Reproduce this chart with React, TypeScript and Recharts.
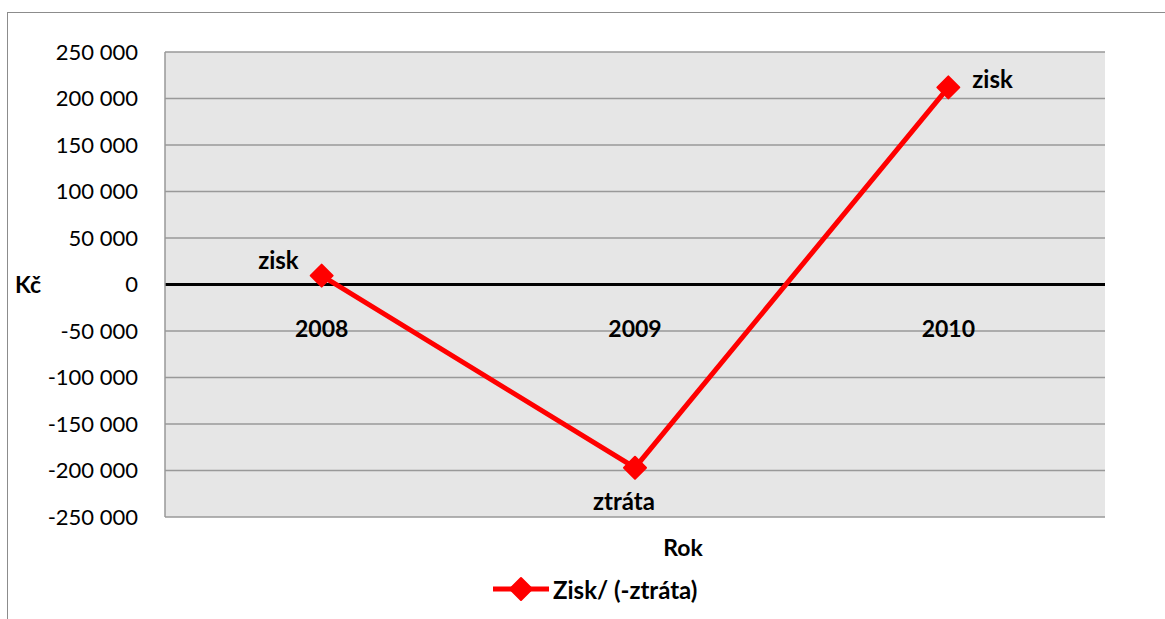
import React from 'react';
import { LineChart, Line, XAxis, YAxis, CartesianGrid, ReferenceLine, LabelList } from 'recharts';

const years = ['2008', '2009', '2010'];
const values = [9500, -197000, 212000];
const pointLabels = ['zisk', 'ztráta', 'zisk'];
const yTicks = [-250000, -200000, -150000, -100000, -50000, 0, 50000, 100000, 150000, 200000, 250000];

const data = years.map((y, i) => ({ year: y, value: values[i], zero: 0, label: pointLabels[i] }));

const FONT = 'Lato, "Open Sans", sans-serif';
const fmt = (v: number) => {
  const s = Math.abs(v).toString().replace(/\B(?=(\d{3})+(?!\d))/g, ' ');
  return (v < 0 ? '-' : '') + s;
};

const Diamond = (props: any) => {
  const { cx, cy } = props;
  if (cx == null || cy == null) return null;
  const r = 11;
  return (
    <path
      d={`M${cx},${cy - r} L${cx + r},${cy} L${cx},${cy + r} L${cx - r},${cy} Z`}
      fill="#ff0000"
      stroke="#ff0000"
      strokeWidth={2}
      strokeLinejoin="round"
    />
  );
};

const PointLabel = (props: any) => {
  const { x, y, index } = props;
  const txt = pointLabels[index];
  let tx = x, ty = y, anchor: any = 'middle';
  if (index === 0) { tx = x - 23; ty = y - 16; anchor = 'end'; }
  else if (index === 1) { tx = x - 11; ty = y + 33; anchor = 'middle'; }
  else { tx = x + 24; ty = y - 9; anchor = 'start'; }
  return (
    <text x={tx} y={ty} textAnchor={anchor} dominantBaseline="central" fontFamily={FONT} fontWeight={700} fontSize={24} fill="#000">
      {txt}
    </text>
  );
};

const CatLabel = (props: any) => {
  const { x, y, index } = props;
  return (
    <text x={x} y={y + 43} textAnchor="middle" dominantBaseline="central" fontFamily={FONT} fontWeight={700} fontSize={23} fill="#000">
      {years[index]}
    </text>
  );
};

export default function App() {
  return (
    <div style={{ position: 'absolute', left: 0, top: 0, width: 1165, height: 619, background: '#fff', overflow: 'hidden' }}>
      <div style={{ position: 'absolute', left: 7, top: 12, width: 1200, height: 700, border: '1.5px solid #8c8c8c', boxSizing: 'border-box' }} />
      <LineChart width={1165} height={619} data={data} margin={{ top: 52, right: 60, bottom: 102, left: 15 }} style={{ position: 'absolute', left: 0, top: 0 }}>
        <CartesianGrid vertical={false} stroke="#999999" strokeWidth={1.5} fill="#e6e6e6" />
        <XAxis dataKey="year" scale="band" hide />
        <YAxis
          width={150}
          domain={[-250000, 250000]}
          ticks={yTicks}
          interval={0}
          tickFormatter={fmt}
          tickLine={false}
          tickSize={0}
          tickMargin={27}
          axisLine={{ stroke: '#999999', strokeWidth: 1.5 }}
          tick={{ fontFamily: FONT, fontSize: 22, fill: '#000' }}
          label={{ value: 'Kč', position: 'insideLeft', offset: 0, style: { fontFamily: FONT, fontWeight: 700, fontSize: 23, fill: '#000' } }}
        />
        <ReferenceLine y={0} stroke="#000" strokeWidth={3} />
        <Line dataKey="zero" stroke="none" dot={false} activeDot={false} isAnimationActive={false} legendType="none">
          <LabelList dataKey="year" content={<CatLabel />} />
        </Line>
        <Line dataKey="value" stroke="#ff0000" strokeWidth={5} dot={<Diamond />} activeDot={false} isAnimationActive={false}>
          <LabelList dataKey="label" content={<PointLabel />} />
        </Line>
      </LineChart>
      <div style={{ position: 'absolute', left: 683, top: 547, transform: 'translate(-50%,-50%)', fontFamily: FONT, fontWeight: 700, fontSize: 23, color: '#000' }}>Rok</div>
      <div style={{ position: 'absolute', left: 490, top: 576, height: 26, display: 'flex', alignItems: 'center' }}>
        <svg width={62} height={26}>
          <line x1={3} y1={13} x2={59} y2={13} stroke="#ff0000" strokeWidth={5} />
          <path d="M31,2 L42,13 L31,24 L20,13 Z" fill="#ff0000" stroke="#ff0000" strokeWidth={2} strokeLinejoin="round" />
        </svg>
        <span style={{ fontFamily: FONT, fontWeight: 700, fontSize: 24, color: '#000', marginLeft: 1 }}>Zisk/ (-ztráta)</span>
      </div>
    </div>
  );
}
